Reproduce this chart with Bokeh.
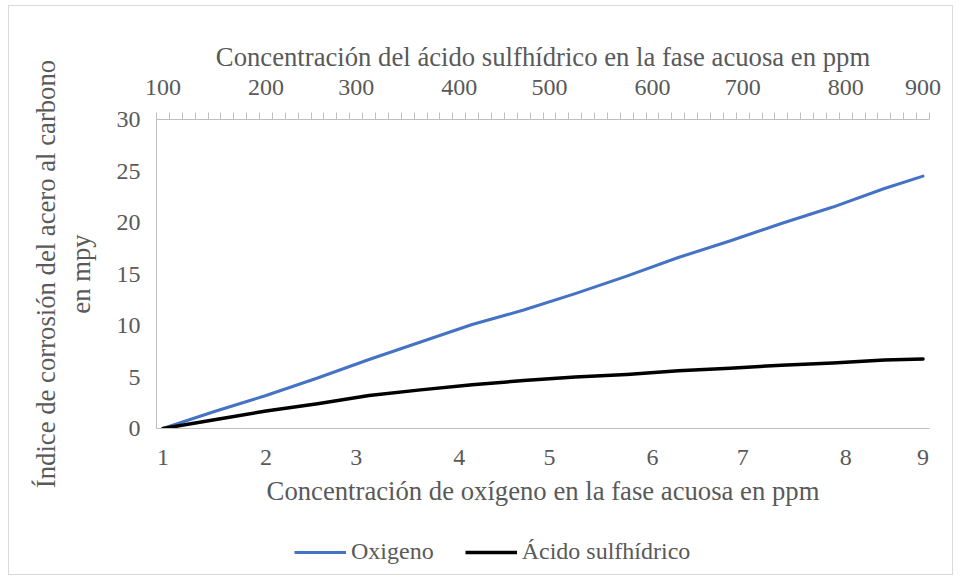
from bokeh.embed import file_html
from bokeh.layouts import column
from bokeh.models import FixedTicker, Legend, LegendItem, LinearAxis, Range1d
from bokeh.plotting import figure
from bokeh.resources import INLINE

FONT = "Liberation Serif"
TXT = "#595959"
AXIS = "#bfbfbf"
AZUL = "#4472C4"
NEGRO = "#000000"

# Position of each sample along the category axis (60 categories, index 0..59)
indice = [0, 4, 8, 12, 16, 20, 24, 28, 32, 36, 40, 44, 48, 52, 56, 59]

# Corrosion rate of carbon steel (mpy)
oxigeno = [0.0, 1.65, 3.2, 4.9, 6.7, 8.4, 10.1, 11.5, 13.1, 14.8, 16.6, 18.2,
           19.9, 21.5, 23.3, 24.5]
sulfhidrico = [0.0, 0.85, 1.7, 2.4, 3.2, 3.75, 4.25, 4.65, 5.0, 5.25, 5.6,
               5.85, 6.15, 6.35, 6.65, 6.75]

# Category label positions and their texts on both axes
pos_etiquetas = [0, 8, 15, 23, 30, 38, 45, 53, 59]
etq_oxigeno = ["1", "2", "3", "4", "5", "6", "7", "8", "9"]
etq_sulfhidrico = ["100", "200", "300", "400", "500", "600", "700", "800", "900"]
ticks_y = [0, 5, 10, 15, 20, 25, 30]

p = figure(frame_width=773, frame_height=309, output_backend="svg",
           toolbar_location=None,
           x_range=Range1d(-0.5, 59.5), y_range=Range1d(0, 30),
           min_border_left=147, min_border_top=113, min_border_right=23,
           min_border_bottom=90)
p.outline_line_color = None
p.grid.visible = False
p.background_fill_color = "white"
p.border_fill_color = "white"


def style_title(ax):
    ax.axis_label_text_font = FONT
    ax.axis_label_text_font_size = "26.7px"
    ax.axis_label_text_font_style = "normal"
    ax.axis_label_text_color = TXT


# bottom axis: oxygen concentration
xa = p.xaxis[0]
xa.ticker = FixedTicker(ticks=pos_etiquetas, minor_ticks=[])
xa.major_label_overrides = dict(zip(pos_etiquetas, etq_oxigeno))
xa.major_tick_out = 0
xa.major_tick_in = 0
xa.minor_tick_out = 0
xa.minor_tick_in = 0
xa.axis_line_color = AXIS
xa.major_label_standoff = 21
xa.axis_label = "Concentración de oxígeno en la fase acuosa en ppm"
xa.axis_label_standoff = 8
style_title(xa)

# left axis, two-line title
ya = p.yaxis[0]
ya.ticker = FixedTicker(ticks=ticks_y, minor_ticks=[])
ya.major_tick_out = 0
ya.major_tick_in = 0
ya.minor_tick_out = 0
ya.minor_tick_in = 0
ya.axis_line_color = AXIS
ya.major_label_standoff = 16
ya.axis_label = "Índice de corrosión del acero al carbono\nen mpy"
ya.axis_label_standoff = 18
ya.axis_label_text_line_height = 1.15
style_title(ya)

# top axis: hydrogen sulfide concentration
top = LinearAxis(
    ticker=FixedTicker(ticks=pos_etiquetas,
                       minor_ticks=[i + 0.5 for i in range(-1, 60)]),
    major_label_overrides=dict(zip(pos_etiquetas, etq_sulfhidrico)),
    axis_label="Concentración del ácido sulfhídrico en la fase acuosa en ppm",
)
top.major_tick_out = 0
top.major_tick_in = 0
top.minor_tick_out = 7
top.minor_tick_in = 0
top.minor_tick_line_color = AXIS
top.axis_line_color = AXIS
top.major_label_standoff = 18
top.axis_label_standoff = 5
style_title(top)
p.add_layout(top, "above")

for ax in (xa, ya, top):
    ax.major_label_text_font = FONT
    ax.major_label_text_font_size = "24px"
    ax.major_label_text_color = TXT
    ax.axis_line_width = 1

p.line(indice, oxigeno, line_color=AZUL, line_width=3,
       line_join="round", line_cap="round")
p.line(indice, sulfhidrico, line_color=NEGRO, line_width=3.5,
       line_join="round", line_cap="round")

# legend strip under the chart; its series sit outside the strip's view,
# only their legend keys show
pl = figure(width=943, height=56, output_backend="svg", toolbar_location=None,
            x_axis_location=None, y_axis_location=None, min_border=0,
            x_range=Range1d(-0.5, 59.5), y_range=Range1d(-20, -10))
pl.outline_line_color = None
pl.grid.visible = False
pl.border_fill_color = "white"
pl.background_fill_color = "white"
k_o2 = pl.line(indice, oxigeno, line_color=AZUL, line_width=3)
k_h2s = pl.line(indice, sulfhidrico, line_color=NEGRO, line_width=3.5)
legend = Legend(items=[LegendItem(label="Oxigeno", renderers=[k_o2]),
                       LegendItem(label="Ácido sulfhídrico", renderers=[k_h2s])],
                orientation="horizontal", location=(138, 9),
                glyph_width=52, glyph_height=26, label_height=26,
                label_standoff=5, spacing=31, padding=0, margin=0,
                border_line_color=None, background_fill_alpha=0,
                label_text_font=FONT, label_text_font_size="24px",
                label_text_color=TXT)
pl.add_layout(legend, "center")

chart = column(p, pl, spacing=0, margin=(5, 0, 0, 8),
               styles={"border": "1px solid #d9d9d9"})

open("out.html", "w").write(file_html(chart, INLINE))
